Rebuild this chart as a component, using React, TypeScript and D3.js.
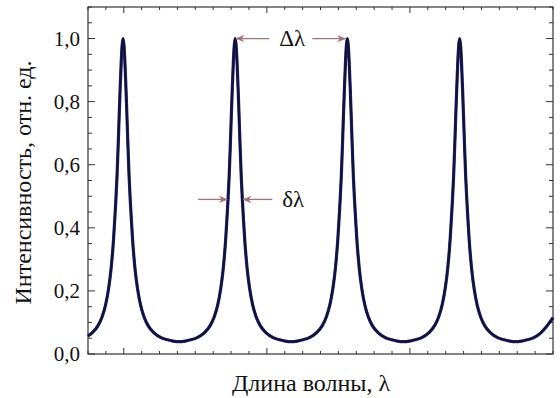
import React from "react";
import * as d3 from "d3";

// wavelength in arbitrary units (one unit = one minor tick of the x axis)
const wavelength = [
  0, 0.23, 0.56, 0.79, 0.98, 1.15, 1.29, 1.43, 1.51, 1.56, 1.62, 1.68, 1.74, 1.79, 1.86, 1.91,
  1.96, 2.01, 2.06, 2.13, 2.18, 2.24, 2.3, 2.36, 2.41, 2.49, 2.63, 2.77, 2.94, 3.13, 3.36, 3.69,
  4.08, 4.45, 4.76, 5.1,
  5.43, 5.74, 6.11, 6.5, 6.83, 7.06, 7.25, 7.42, 7.56, 7.7, 7.78, 7.83, 7.89, 7.95, 8.01, 8.06,
  8.13, 8.18, 8.23, 8.28, 8.33, 8.4, 8.45, 8.51, 8.57, 8.63, 8.68, 8.76, 8.9, 9.04, 9.21, 9.4,
  9.63, 9.96, 10.35, 10.72, 11.03, 11.37,
  11.7, 12.01, 12.38, 12.77, 13.1, 13.33, 13.52, 13.69, 13.83, 13.97, 14.05, 14.1, 14.16, 14.22,
  14.28, 14.33, 14.4, 14.45, 14.5, 14.55, 14.6, 14.67, 14.72, 14.78, 14.84, 14.9, 14.95, 15.03,
  15.17, 15.31, 15.48, 15.67, 15.9, 16.23, 16.62, 16.99, 17.3, 17.64,
  17.98, 18.29, 18.66, 19.05, 19.38, 19.61, 19.8, 19.97, 20.11, 20.25, 20.33, 20.38, 20.44, 20.5,
  20.56, 20.61, 20.68, 20.73, 20.78, 20.83, 20.88, 20.95, 21.0, 21.06, 21.12, 21.18, 21.23, 21.31,
  21.45, 21.59, 21.76, 21.95, 22.18, 22.51, 22.9, 23.27, 23.58, 23.91,
  24.25, 24.56, 24.93, 25.32, 25.65, 26.0,
];

const intensity = [
  0.057, 0.067, 0.09, 0.118, 0.155, 0.207, 0.27, 0.365, 0.44, 0.49, 0.56, 0.65, 0.75, 0.83, 0.93, 0.98,
  1.0, 0.98, 0.93, 0.83, 0.75, 0.65, 0.56, 0.49, 0.44, 0.365, 0.27, 0.207, 0.155, 0.118, 0.09, 0.067,
  0.052, 0.045, 0.041, 0.039,
  0.041, 0.045, 0.052, 0.067, 0.09, 0.118, 0.155, 0.207, 0.27, 0.365, 0.44, 0.49, 0.56, 0.65, 0.75, 0.83,
  0.93, 0.98, 1.0, 0.98, 0.93, 0.83, 0.75, 0.65, 0.56, 0.49, 0.44, 0.365, 0.27, 0.207, 0.155, 0.118,
  0.09, 0.067, 0.052, 0.045, 0.041, 0.039,
  0.041, 0.045, 0.052, 0.067, 0.09, 0.118, 0.155, 0.207, 0.27, 0.365, 0.44, 0.49, 0.56, 0.65,
  0.75, 0.83, 0.93, 0.98, 1.0, 0.98, 0.93, 0.83, 0.75, 0.65, 0.56, 0.49, 0.44, 0.365,
  0.27, 0.207, 0.155, 0.118, 0.09, 0.067, 0.052, 0.045, 0.041, 0.039,
  0.041, 0.045, 0.052, 0.067, 0.09, 0.118, 0.155, 0.207, 0.27, 0.365, 0.44, 0.49, 0.56, 0.65,
  0.75, 0.83, 0.93, 0.98, 1.0, 0.98, 0.93, 0.83, 0.75, 0.65, 0.56, 0.49, 0.44, 0.365,
  0.27, 0.207, 0.155, 0.118, 0.09, 0.067, 0.052, 0.045, 0.041, 0.039,
  0.041, 0.045, 0.052, 0.067, 0.088, 0.115,
];

const yTickValues = [0, 0.2, 0.4, 0.6, 0.8, 1.0];
const yTickLabels = ["0,0", "0,2", "0,4", "0,6", "0,8", "1,0"];
const xMajorTicks = [2, 10, 18];

// annotation anchors (data units)
const peak2 = 8.23;
const peak3 = 14.5;
const halfLevel = 0.49;
const halfLeft = 7.89;
const halfRight = 8.57;

const W = 560;
const H = 398;
const margin = { left: 88, right: 7, top: 7, bottom: 44 };

export default function App() {
  const x = d3.scaleLinear().domain([0, 26]).range([margin.left, W - margin.right]);
  const y = d3.scaleLinear().domain([0, 1.1]).range([H - margin.bottom, margin.top]);

  const points = wavelength.map((w, i) => [w, intensity[i]] as [number, number]);
  const line = d3
    .line<[number, number]>()
    .x((d) => x(d[0]))
    .y((d) => y(d[1]))
    .curve(d3.curveMonotoneX);

  const x0 = x(0), x1 = x(26), y0 = y(0), y1 = y(1.1);
  const xMinor = d3.range(0, 26.001, 1);
  const yMinor = d3.range(0, 1.1001, 0.05);
  const majorLen = 7;
  const minorLen = 4;
  const axisColor = "#333";
  const arrowColor = "#a27474";
  const font = "'Liberation Serif', 'Times New Roman', serif";

  const isXMajor = (v: number) => xMajorTicks.some((m) => Math.abs(m - v) < 1e-6);
  const isYMajor = (v: number) => yTickValues.some((m) => Math.abs(m - v) < 1e-6);

  const dlY = y(1.0);
  const halfY = y(halfLevel);

  return (
    <svg width={W} height={H} style={{ position: "absolute", left: 0, top: 0, background: "#fff" }}>
      <defs>
        <marker id="ah" viewBox="0 0 10 10" refX="9" refY="5" markerWidth="7" markerHeight="7" orient="auto-start-reverse">
          <path d="M0,1 L10,5 L0,9 L3,5 Z" fill={arrowColor} />
        </marker>
      </defs>

      {/* ticks: bottom & top */}
      {xMinor.map((v, i) => {
        const len = isXMajor(v) ? majorLen - 1 : minorLen - 1;
        return (
          <g key={"xt" + i} stroke={axisColor} strokeWidth={1}>
            <line x1={x(v)} x2={x(v)} y1={y0} y2={y0 - len} />
            <line x1={x(v)} x2={x(v)} y1={y1} y2={y1 + len} />
          </g>
        );
      })}
      {/* ticks: left & right */}
      {yMinor.map((v, i) => {
        const len = isYMajor(v) ? majorLen : minorLen;
        return (
          <g key={"yt" + i} stroke={axisColor} strokeWidth={1}>
            <line x1={x0} x2={x0 + len} y1={y(v)} y2={y(v)} />
            <line x1={x1} x2={x1 - len} y1={y(v)} y2={y(v)} />
          </g>
        );
      })}

      {/* frame */}
      <rect x={x0} y={y1} width={x1 - x0} height={y0 - y1} fill="none" stroke={axisColor} strokeWidth={1.2} />

      {/* y tick labels */}
      {yTickValues.map((v, i) => (
        <text key={"yl" + i} x={x0 - 8} y={y(v)} dy="0.35em" textAnchor="end" fontFamily={font} fontSize={21} fill="#111">
          {yTickLabels[i]}
        </text>
      ))}

      {/* curve */}
      <path d={line(points) || ""} fill="none" stroke="#2a2a8a" strokeWidth={3.2} strokeLinejoin="round" />
      <path d={line(points) || ""} fill="none" stroke="#121236" strokeWidth={2.2} strokeLinejoin="round" />

      {/* Δλ annotation */}
      <line x1={x(peak2) + 34} y1={dlY} x2={x(peak2) + 1} y2={dlY} stroke={arrowColor} strokeWidth={1.3} markerEnd="url(#ah)" />
      <line x1={x(peak3) - 35} y1={dlY} x2={x(peak3) - 2} y2={dlY} stroke={arrowColor} strokeWidth={1.3} markerEnd="url(#ah)" />
      <text x={(x(peak2) + x(peak3)) / 2 + 1} y={dlY - 1} dy="0.35em" textAnchor="middle" fontFamily={font} fontSize={23} fill="#111">
        Δλ
      </text>

      {/* δλ annotation */}
      <line x1={x(halfLeft) - 31} y1={halfY} x2={x(halfLeft) - 2} y2={halfY} stroke={arrowColor} strokeWidth={1.3} markerEnd="url(#ah)" />
      <line x1={x(halfRight) + 31} y1={halfY} x2={x(halfRight) + 2} y2={halfY} stroke={arrowColor} strokeWidth={1.3} markerEnd="url(#ah)" />
      <text x={x(halfRight) + 41} y={halfY} dy="0.35em" fontFamily={font} fontSize={23} fill="#111">
        δλ
      </text>

      {/* axis titles */}
      <text x={311} y={391} textAnchor="middle" fontFamily={font} fontSize={24} fill="#111">
        Длина волны, λ
      </text>
      <text
        transform={`translate(31, ${(y0 + y1) / 2 + 2}) rotate(-90)`}
        textAnchor="middle"
        fontFamily={font}
        fontSize={24}
        fill="#111"
      >
        Интенсивность, отн. ед.
      </text>
    </svg>
  );
}
